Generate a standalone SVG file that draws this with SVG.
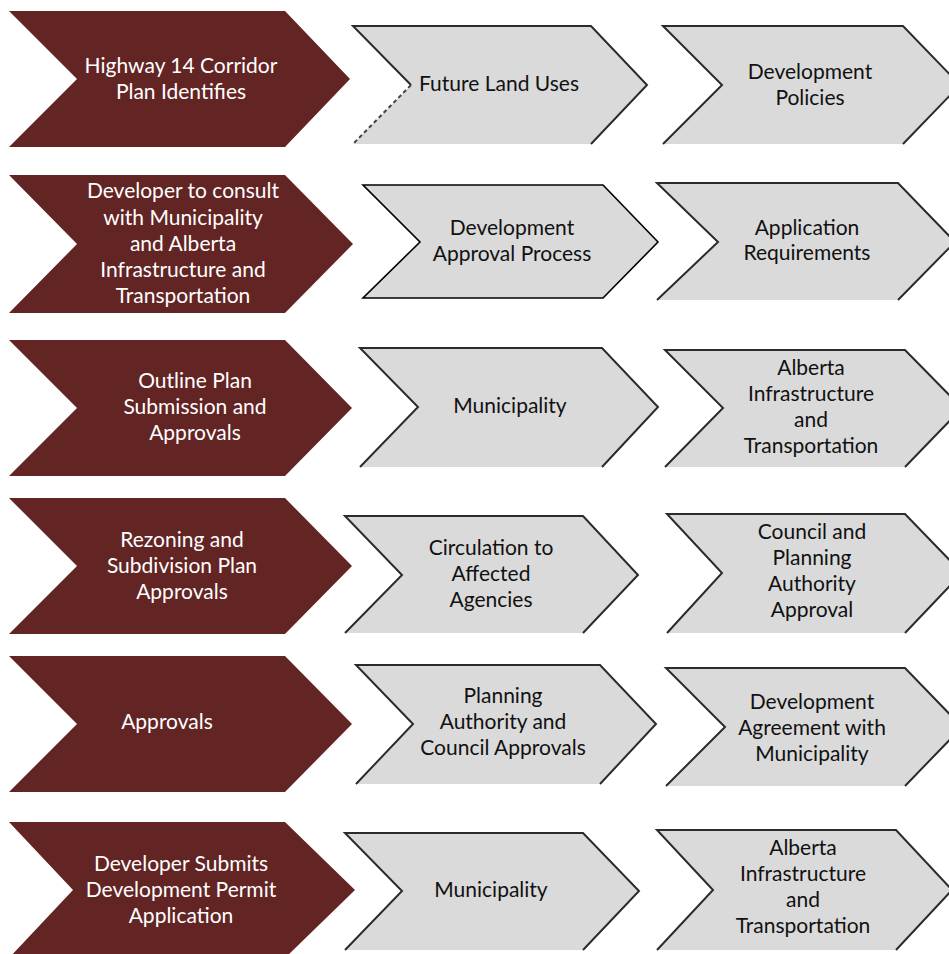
<svg xmlns="http://www.w3.org/2000/svg" width="949" height="954" viewBox="0 0 949 954">
<style>
.m{fill:#632424}
.g{fill:#dadada}
.e{fill:none;stroke:#2b2b2b;stroke-width:2;stroke-linejoin:miter}
.b{fill:none;stroke:#000;stroke-width:1.6}
.dash{fill:none;stroke:#444;stroke-width:2;stroke-dasharray:4 3}
text{font-family:Lato,"Open Sans","Liberation Sans",sans-serif;font-size:21px;text-anchor:middle}
.w{fill:#ffffff}
.k{fill:#111111}
</style>
<rect width="949" height="954" fill="#ffffff"/>
<g id="connectors"></g>

<!-- Row 1 -->
<g id="r1c1"><polygon class="m" points="9,11 285,11 350,79 285,147 9,147 77,79"/>
<text class="w" x="181" y="73">Highway 14 Corridor</text><text class="w" x="181" y="99">Plan Identifies</text></g>
<g id="r1c2"><polygon class="g" points="353,26 591,26 647,85 591,144 353,144 411,85"/>
<path class="e" d="M411,85 L353,26 L591,26 L647,85 L591,144"/>
<path class="dash" d="M411,85 L353,144"/>
<text class="k" x="499" y="91">Future Land Uses</text></g>
<g id="r1c3"><polygon class="g" points="663,26 903,26 960,85 903,144 663,144 722,85"/>
<path class="e" d="M663,144 L722,85 L663,26 L903,26 L960,85 L903,144"/>
<text class="k" x="810" y="79">Development</text><text class="k" x="810" y="105">Policies</text></g>

<!-- Row 2 -->
<g id="r2c1"><polygon class="m" points="9,175 285,175 353,244 285,313 9,313 77,244"/>
<text class="w" x="183" y="198">Developer to consult</text><text class="w" x="183" y="225">with Municipality</text><text class="w" x="183" y="251">and Alberta</text><text class="w" x="183" y="277">Infrastructure and</text><text class="w" x="183" y="303">Transportation</text></g>
<g id="r2c2"><polygon class="g" points="363,185 603,185 658,242 603,298 363,298 420,242"/>
<polygon class="b" points="363,185 603,185 658,242 603,298 363,298 420,242"/>
<text class="k" x="512" y="235">Development</text><text class="k" x="512" y="261">Approval Process</text></g>
<g id="r2c3"><polygon class="g" points="657,183 898,183 955,242 898,300 657,300 718,242"/>
<path class="e" d="M657,300 L718,242 L657,183 L898,183 L955,242 L898,300"/>
<text class="k" x="807" y="235">Application</text><text class="k" x="807" y="260">Requirements</text></g>

<!-- Row 3 -->
<g id="r3c1"><polygon class="m" points="9,340 285,340 352,408 285,476 9,476 77,408"/>
<text class="w" x="195" y="388">Outline Plan</text><text class="w" x="195" y="414">Submission and</text><text class="w" x="195" y="440">Approvals</text></g>
<g id="r3c2"><polygon class="g" points="360,348 602,348 658,407 602,467 360,467 418,407"/>
<path class="e" d="M360,467 L418,407 L360,348 L602,348 L658,407 L602,467"/>
<text class="k" x="510" y="413">Municipality</text></g>
<g id="r3c3"><polygon class="g" points="665,350 905,350 962,408 905,467 665,467 723,408"/>
<path class="e" d="M665,467 L723,408 L665,350 L905,350 L962,408 L905,467"/>
<text class="k" x="811" y="375">Alberta</text><text class="k" x="811" y="401">Infrastructure</text><text class="k" x="811" y="427">and</text><text class="k" x="811" y="453">Transportation</text></g>

<!-- Row 4 -->
<g id="r4c1"><polygon class="m" points="9,498 285,498 352,566 285,634 9,634 77,566"/>
<text class="w" x="182" y="547">Rezoning and</text><text class="w" x="182" y="573">Subdivision Plan</text><text class="w" x="182" y="599">Approvals</text></g>
<g id="r4c2"><polygon class="g" points="345,516 583,516 638,575 583,633 345,633 402,575"/>
<path class="e" d="M345,633 L402,575 L345,516 L583,516 L638,575 L583,633"/>
<text class="k" x="491" y="555">Circulation to</text><text class="k" x="491" y="581">Affected</text><text class="k" x="491" y="607">Agencies</text></g>
<g id="r4c3"><polygon class="g" points="667,514 905,514 962,573 905,633 667,633 722,573"/>
<path class="e" d="M667,633 L722,573 L667,514 L905,514 L962,573 L905,633"/>
<text class="k" x="812" y="539">Council and</text><text class="k" x="812" y="565">Planning</text><text class="k" x="812" y="591">Authority</text><text class="k" x="812" y="617">Approval</text></g>

<!-- Row 5 -->
<g id="r5c1"><polygon class="m" points="9,656 285,656 352,724 285,792 9,792 77,724"/>
<text class="w" x="167" y="729">Approvals</text></g>
<g id="r5c2"><polygon class="g" points="356,665 600,665 656,724 600,784 356,784 413,724"/>
<path class="e" d="M356,784 L413,724 L356,665 L600,665 L656,724 L600,784"/>
<text class="k" x="503" y="703">Planning</text><text class="k" x="503" y="729">Authority and</text><text class="k" x="503" y="755">Council Approvals</text></g>
<g id="r5c3"><polygon class="g" points="666,668 905,668 962,727 905,786 666,786 725,727"/>
<path class="e" d="M666,786 L725,727 L666,668 L905,668 L962,727 L905,786"/>
<text class="k" x="812" y="709">Development</text><text class="k" x="812" y="735">Agreement with</text><text class="k" x="812" y="761">Municipality</text></g>

<!-- Row 6 -->
<g id="r6c1"><polygon class="m" points="9,822 285,822 355,890 285,958 9,958 73,890"/>
<text class="w" x="181" y="871">Developer Submits</text><text class="w" x="181" y="897">Development Permit</text><text class="w" x="181" y="923">Application</text></g>
<g id="r6c2"><polygon class="g" points="345,833 583,833 639,891 583,950 345,950 402,891"/>
<path class="e" d="M345,950 L402,891 L345,833 L583,833 L639,891 L583,950"/>
<text class="k" x="491" y="897">Municipality</text></g>
<g id="r6c3"><polygon class="g" points="657,830 896,830 952,890 896,950 657,950 713,890"/>
<path class="e" d="M657,950 L713,890 L657,830 L896,830 L952,890 L896,950"/>
<text class="k" x="803" y="855">Alberta</text><text class="k" x="803" y="881">Infrastructure</text><text class="k" x="803" y="907">and</text><text class="k" x="803" y="933">Transportation</text></g>
</svg>
